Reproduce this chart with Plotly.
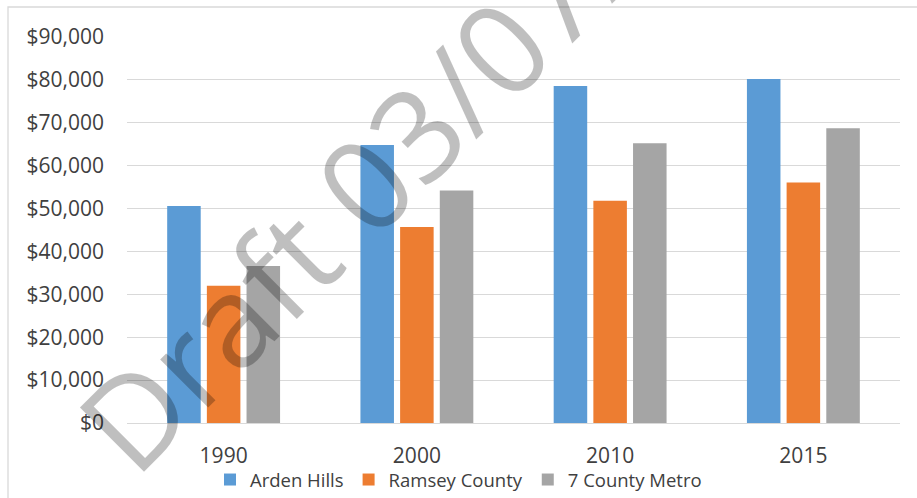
import plotly.graph_objects as go

# Median household income by year
years = ["1990", "2000", "2010", "2015"]
arden_hills = [50600, 64800, 78600, 80200]
ramsey_county = [32000, 45700, 51800, 56100]
seven_county_metro = [36600, 54200, 65200, 68700]

series_names = ["Arden Hills", "Ramsey County", "7 County Metro"]
series_colors = ["#5B9BD5", "#ED7D31", "#A5A5A5"]
y_ticks = [0, 10000, 20000, 30000, 40000, 50000, 60000, 70000, 80000, 90000]

FONT = "Open Sans"
TEXT_COLOR = "#404040"

fig = go.Figure()
for name, values, color in zip(series_names,
                               [arden_hills, ramsey_county, seven_county_metro],
                               series_colors):
    fig.add_trace(go.Bar(
        x=years, y=values, name=name,
        marker=dict(color=color, line=dict(width=0)),
        hoverinfo="x+y+name",
    ))

# plot-area geometry in pixels (used to place the frame and the watermark)
W, H = 917, 498
L, R, T, B = 127, 17, 37, 75
pw, ph = W - L - R, H - T - B


def px_x(x):
    return (x - L) / pw


def px_y(y):
    return (H - B - y) / ph


fig.update_layout(
    width=W, height=H,
    margin=dict(l=L, r=R, t=T, b=B, pad=0, autoexpand=False),
    paper_bgcolor="white",
    plot_bgcolor="white",
    barmode="group",
    bargap=0.384,
    bargroupgap=0.155,
    font=dict(family=FONT, color=TEXT_COLOR, size=21),
    showlegend=True,
    legend=dict(
        orientation="h",
        x=px_x(210), xanchor="left",
        y=px_y(480), yanchor="middle",
        font=dict(family=FONT, size=18.5, color=TEXT_COLOR),
        bgcolor="rgba(0,0,0,0)",
        itemclick=False, itemdoubleclick=False,
    ),
    xaxis=dict(
        type="category",
        showgrid=False,
        showline=True, linecolor="#D9D9D9", linewidth=1.3,
        ticks="", ticklabelstandoff=14,
        tickfont=dict(family=FONT, size=21, color=TEXT_COLOR),
        fixedrange=True,
    ),
    yaxis=dict(
        range=[0, 90000],
        tickvals=y_ticks,
        tickformat="$,.0f",
        showgrid=True, gridcolor="#D9D9D9", gridwidth=1.3,
        zeroline=False,
        showline=False,
        ticks="", ticklabelstandoff=22,
        tickfont=dict(family=FONT, size=21, color=TEXT_COLOR),
        fixedrange=True,
    ),
)

# outer chart frame
fig.add_shape(
    type="rect", xref="paper", yref="paper",
    x0=px_x(8), x1=px_x(W + 20), y0=px_y(H + 20), y1=px_y(7),
    line=dict(color="#D9D9D9", width=1.3), fillcolor="rgba(0,0,0,0)",
    layer="below",
)

# diagonal draft watermark
fig.add_annotation(
    xref="paper", yref="paper",
    x=px_x(457), y=px_y(88),
    xanchor="center", yanchor="middle",
    text="Draft 03/07/2017",
    textangle=-45,
    showarrow=False,
    font=dict(family=FONT, size=127, color="rgba(0,0,0,0.25)"),
)

fig.write_html("out.html", config={"displayModeBar": False})
